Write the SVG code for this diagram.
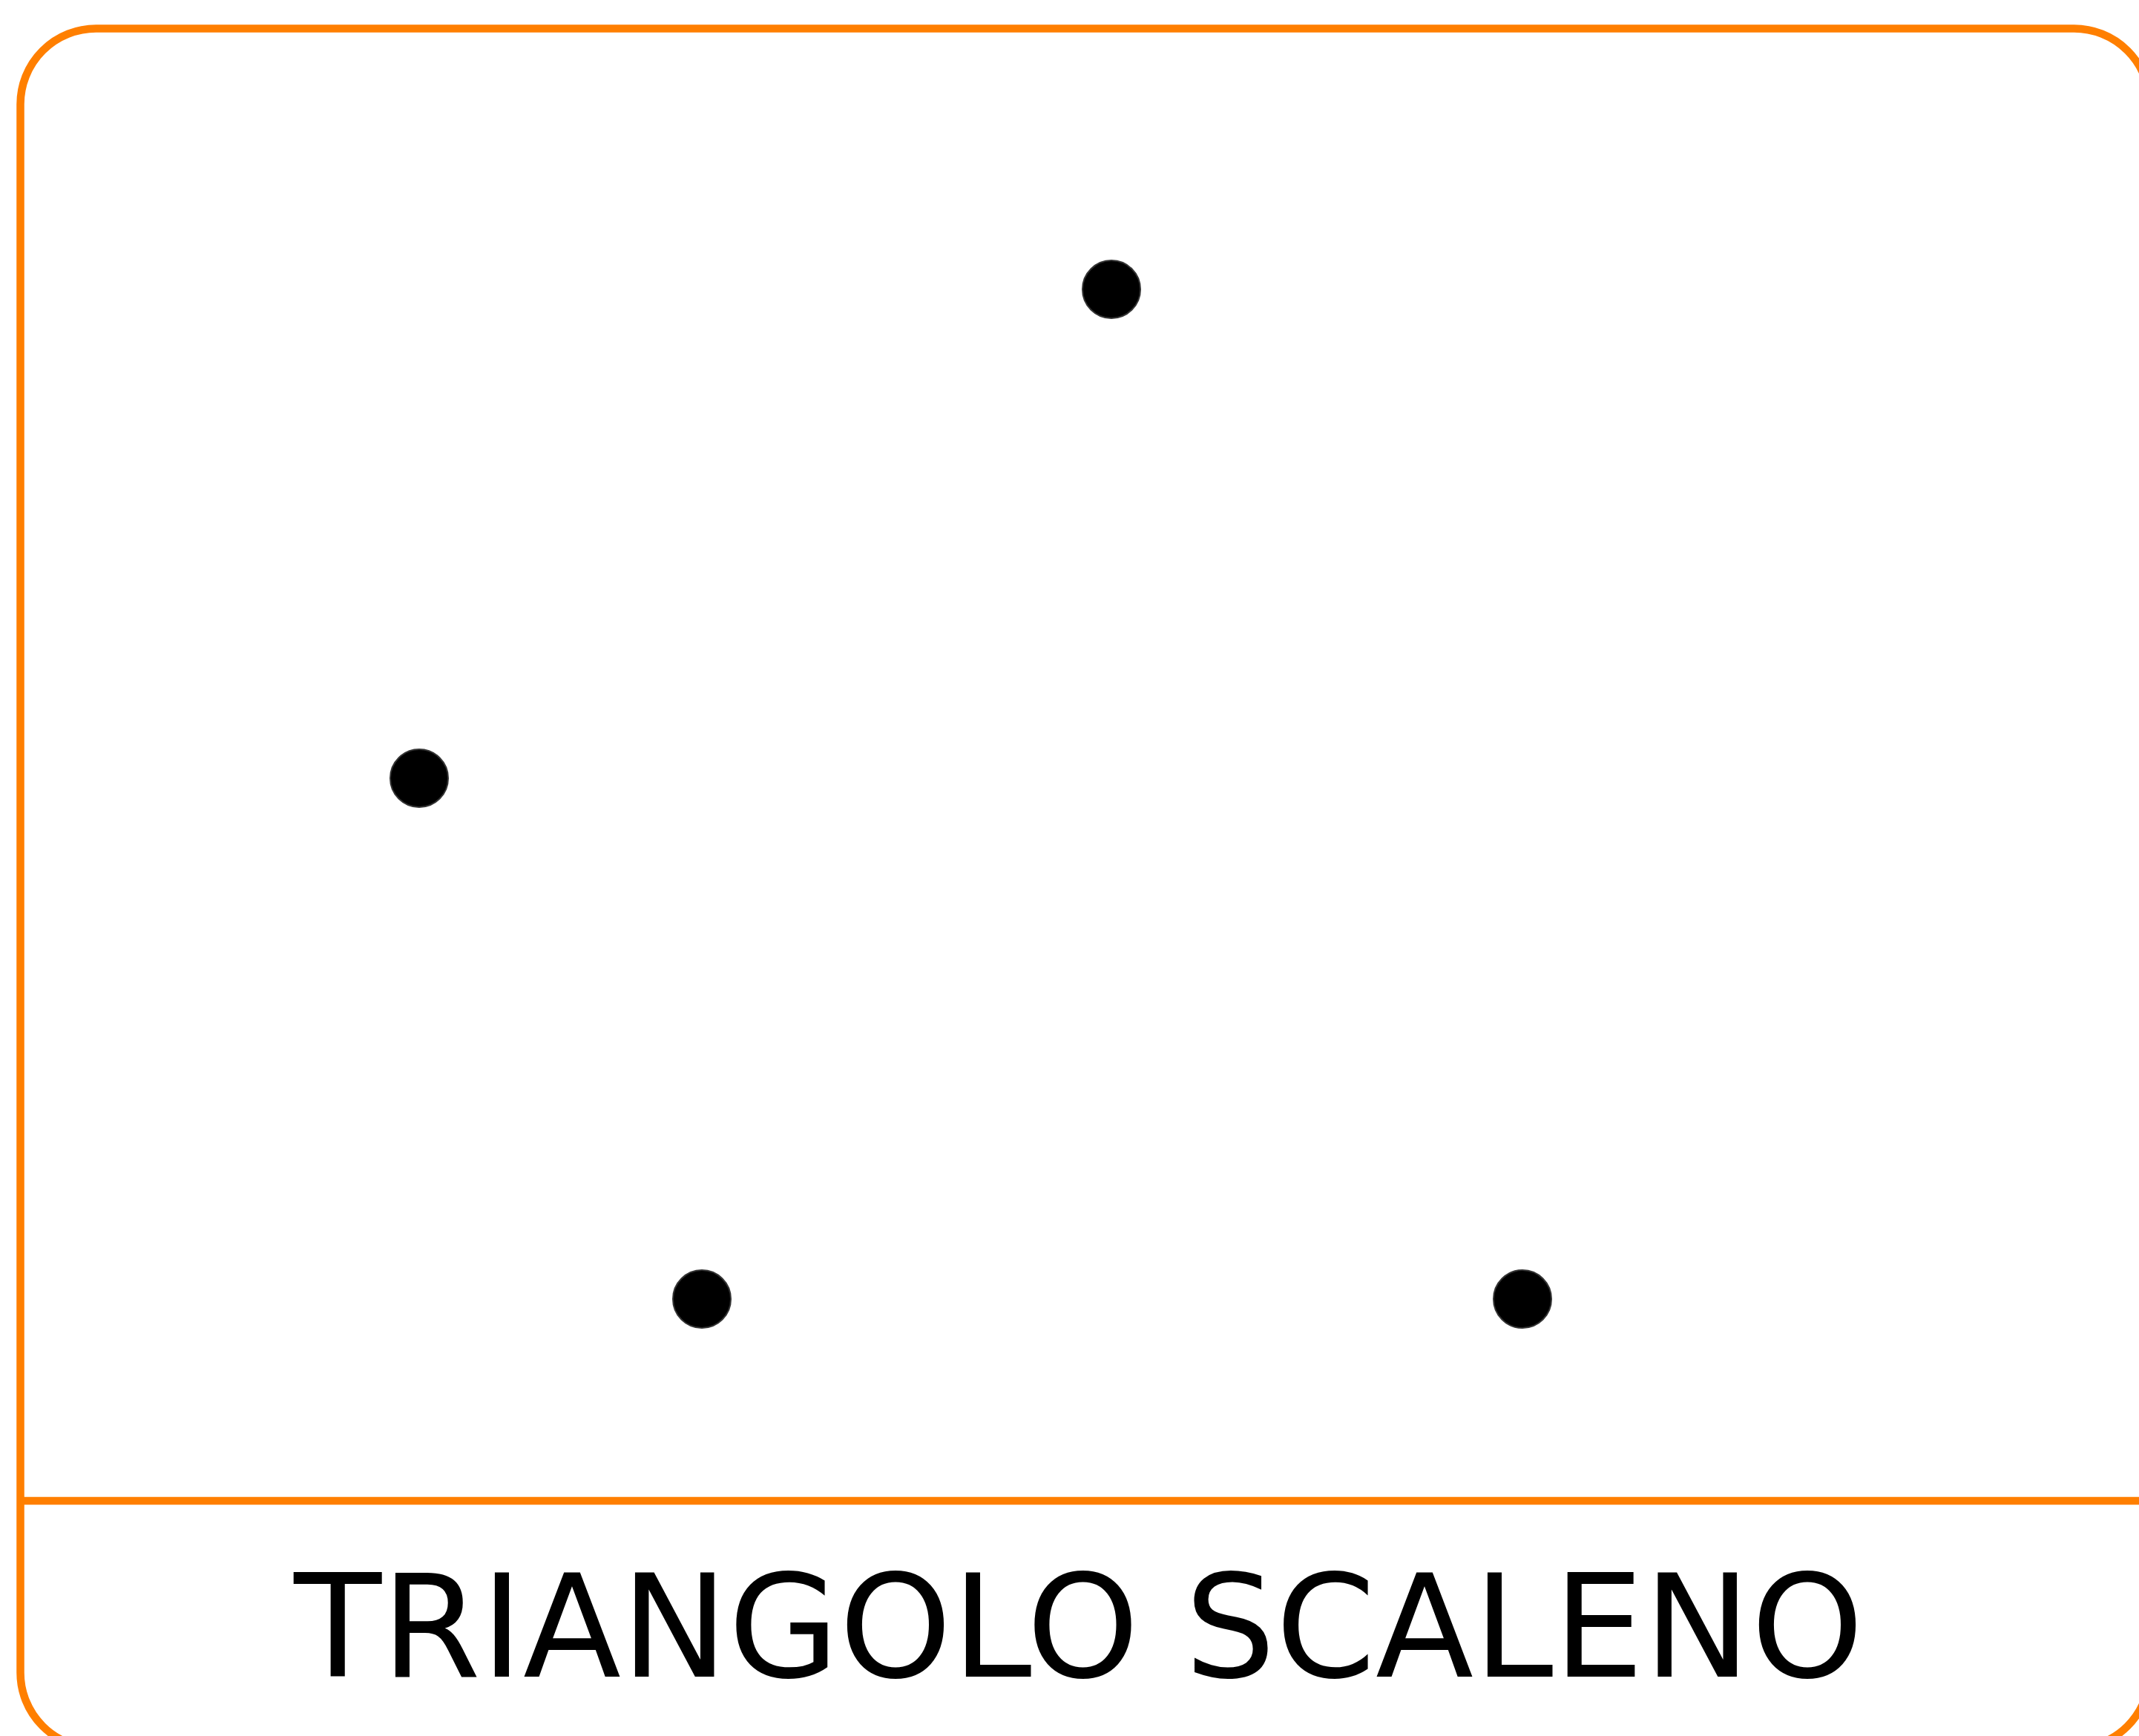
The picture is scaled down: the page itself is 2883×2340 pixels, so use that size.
<svg xmlns="http://www.w3.org/2000/svg" width="2883" height="2340" viewBox="0 0 2883 2340">
<style>
.frame{fill:none;stroke:#ff7f00;stroke-width:10.5}
.dot{fill:#000;stroke:#333;stroke-width:2}
.label{font-family:"DejaVu Sans",sans-serif;font-size:193px;fill:#000;text-anchor:middle}
</style>
<rect width="2883" height="2340" fill="#fff"/>
<g id="card">
<rect class="frame" x="27.5" y="38.5" width="2870" height="2318" rx="102" ry="102"/>
<line class="frame" x1="27.5" y1="2023" x2="2897.5" y2="2023"/>
<text class="label" x="1454" y="2260">TRIANGOLO SCALENO</text>
</g>
<g id="connectors"></g>
<g id="point-top"><circle class="dot" cx="1498" cy="390" r="39"/></g>
<g id="point-left"><circle class="dot" cx="565" cy="1049" r="39"/></g>
<g id="point-bottom-left"><circle class="dot" cx="946" cy="1751" r="39"/></g>
<g id="point-bottom-right"><circle class="dot" cx="2052" cy="1751" r="39"/></g>
</svg>
